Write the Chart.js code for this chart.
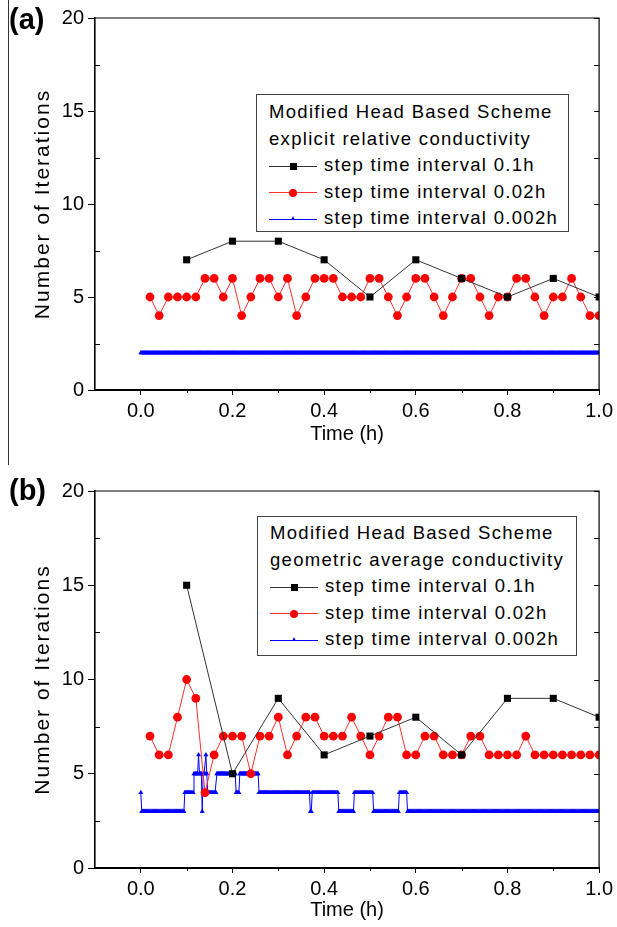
<!DOCTYPE html>
<html>
<head>
<meta charset="utf-8">
<script src="https://cdn.jsdelivr.net/npm/chart.js@4.4.0/dist/chart.umd.min.js"></script>
<style>
  html, body { margin:0; padding:0; background:#fff; }
  #page { position:relative; width:617px; height:927px; overflow:hidden; font-family:"Liberation Sans", Arial, sans-serif; color:#000; }
  canvas { position:absolute; left:0; }
  #cA { top:0; }
  #cB { top:463px; }
  .panel { position:absolute; left:9px; font-weight:bold; font-size:29px; line-height:32px; }
  .rule { position:absolute; left:8px; top:0; width:0; height:465px; border-left:1px solid #333; }
  .legend { position:absolute; box-sizing:border-box; border:1.5px solid #444; background:#fff; font-size:18.5px; letter-spacing:1.3px; white-space:nowrap; }
  .legend div { height:26.6px; line-height:26.6px; }
  .sym { display:inline-block; position:relative; width:48px; height:1px; vertical-align:middle; margin-right:7px; }
  .mk { position:absolute; left:50%; top:50%; }
</style>
</head>
<body>
<div id="page">
  <canvas id="cA" width="617" height="463"></canvas>
  <canvas id="cB" width="617" height="464"></canvas>
  <div class="rule"></div>
  <div class="panel" style="top:3px;">(a)</div>
  <div class="panel" style="top:474px;">(b)</div>
  <div class="legend" id="legA" style="left:256px; top:94px; width:313px; height:138px; padding:4px 0 0 12px;"></div>
  <div class="legend" id="legB" style="left:257px; top:516px; width:320px; height:140px; padding:3px 0 0 12px;"></div>
</div>
<script>
// step time interval 0.1h
var timeCoarse = [0.1, 0.2, 0.3, 0.4, 0.5, 0.6, 0.7, 0.8, 0.9, 1.0];
var itersCoarseA = [7, 8, 8, 7, 5, 7, 6, 5, 6, 5];
var itersCoarseB = [15, 5, 9, 6, 7, 8, 6, 9, 9, 8];

// step time interval 0.02h
var timeMedium = [0.02, 0.04, 0.06, 0.08, 0.10, 0.12, 0.14, 0.16, 0.18, 0.20,
                  0.22, 0.24, 0.26, 0.28, 0.30, 0.32, 0.34, 0.36, 0.38, 0.40,
                  0.42, 0.44, 0.46, 0.48, 0.50, 0.52, 0.54, 0.56, 0.58, 0.60,
                  0.62, 0.64, 0.66, 0.68, 0.70, 0.72, 0.74, 0.76, 0.78, 0.80,
                  0.82, 0.84, 0.86, 0.88, 0.90, 0.92, 0.94, 0.96, 0.98, 1.00];
var itersMediumA = [5, 4, 5, 5, 5, 5, 6, 6, 5, 6, 4, 5, 6, 6, 5, 6, 4, 5, 6, 6,
                    6, 5, 5, 5, 6, 6, 5, 4, 5, 6, 6, 5, 4, 5, 6, 6, 5, 4, 5, 5,
                    6, 6, 5, 4, 5, 5, 6, 5, 4, 4];
var itersMediumB = [7, 6, 6, 8, 10, 9, 4, 6, 7, 7, 7, 5, 7, 7, 8, 6, 7, 8, 8, 7,
                    7, 7, 8, 7, 6, 7, 8, 8, 6, 6, 7, 7, 6, 6, 6, 7, 7, 6, 6, 6,
                    6, 7, 6, 6, 6, 6, 6, 6, 6, 6];

// step time interval 0.002h, written as runs of [iterations, number of steps] from t = 0
var fineStep = 0.002;
var itersFineRunsA = [[2, 501]];
var itersFineRunsB = [[4, 1], [3, 47], [4, 10], [5, 5], [6, 1], [5, 3], [3, 1], [5, 3], [6, 1], [5, 1],
                      [4, 10], [5, 21], [4, 4], [5, 21], [4, 56], [3, 2], [4, 29], [3, 17], [4, 21],
                      [3, 28], [4, 9], [3, 210]];

var seriesLabels = ["step time interval 0.1h", "step time interval 0.02h", "step time interval 0.002h"];
var legendHeadA = ["Modified Head Based Scheme", "explicit relative conductivity"];
var legendHeadB = ["Modified Head Based Scheme", "geometric average conductivity"];

function pairs(xs, ys) {
  var out = [];
  for (var i = 0; i < xs.length; i++) out.push({x: xs[i], y: ys[i]});
  return out;
}

function fromRuns(runs, step) {
  var out = [], i = 0;
  runs.forEach(function(r) {
    for (var k = 0; k < r[1]; k++) { out.push({x: +(i * step).toFixed(3), y: r[0]}); i++; }
  });
  return out;
}

function makeDatasets(coarse, medium, fineRuns) {
  return [
    {
      label: seriesLabels[0], data: pairs(timeCoarse, coarse),
      borderColor: '#333', borderWidth: 1, backgroundColor: '#000',
      pointStyle: 'rect', pointRadius: 5, pointBorderWidth: 0
    },
    {
      label: seriesLabels[1], data: pairs(timeMedium, medium),
      borderColor: '#ff3030', borderWidth: 1, backgroundColor: '#ff0000',
      pointStyle: 'circle', pointRadius: 4.4, pointBorderWidth: 0
    },
    {
      label: seriesLabels[2], data: fromRuns(fineRuns, fineStep),
      borderColor: '#0000ff', borderWidth: 1, backgroundColor: '#0000ff',
      pointStyle: 'triangle', pointRadius: 2.9, pointBorderWidth: 0
    }
  ];
}

// box top/right, inward ticks, minor ticks; spaced axis title
var framePlugin = {
  id: 'frame',
  afterLayout: function(chart) {
    var ys = chart.scales.y;
    if (ys._spacedTitle) return;
    var orig = ys.drawTitle;
    ys.drawTitle = function() {
      var ctx = this.ctx;
      var prev = ctx.letterSpacing;
      ctx.letterSpacing = '2px';
      orig.apply(this, arguments);
      ctx.letterSpacing = prev || '0px';
    };
    ys._spacedTitle = true;
  },
  afterDraw: function(chart) {
    var a = chart.chartArea, ctx = chart.ctx, ys = chart.scales.y, xs = chart.scales.x;
    ctx.save();
    ctx.strokeStyle = '#000';
    ctx.lineWidth = 1.2;
    ctx.beginPath();
    ctx.moveTo(a.left, a.top); ctx.lineTo(a.right, a.top); ctx.lineTo(a.right, a.bottom);
    ctx.stroke();
    ctx.lineWidth = 1;
    ys.ticks.forEach(function(t) {
      var py = Math.round(ys.getPixelForValue(t.value)) + 0.5;
      ctx.beginPath(); ctx.moveTo(a.right, py); ctx.lineTo(a.right - 5, py); ctx.stroke();
      if (t.value % 5 !== 0) {
        ctx.beginPath(); ctx.moveTo(a.left, py); ctx.lineTo(a.left + 5, py); ctx.stroke();
      }
    });
    xs.ticks.forEach(function(t) {
      var k = Math.round(t.value * 10);
      if (k > 0 && k % 2 !== 0) {
        var px = Math.round(xs.getPixelForValue(t.value)) + 0.5;
        ctx.beginPath(); ctx.moveTo(px, a.bottom); ctx.lineTo(px, a.bottom + 3); ctx.stroke();
      }
    });
    ctx.restore();
  }
};

function isMajorX(v) {
  var k = Math.round(v * 10);
  return k >= 0 && k % 2 === 0;
}

function makeChart(id, datasets, pad, xHeight) {
  return new Chart(document.getElementById(id), {
    type: 'line',
    data: { datasets: datasets },
    options: {
      responsive: false,
      animation: false,
      devicePixelRatio: 1,
      layout: { padding: pad },
      plugins: { legend: { display: false }, tooltip: { enabled: false } },
      scales: {
        x: {
          type: 'linear', min: -0.1, max: 1.0,
          border: { color: '#000', width: 2 },
          grid: {
            drawOnChartArea: false, tickLength: 5, lineWidth: 1,
            tickColor: function(c) { return (c.tick && isMajorX(c.tick.value)) ? '#000' : 'rgba(0,0,0,0)'; }
          },
          ticks: {
            stepSize: 0.1, padding: 4, color: '#000', maxRotation: 0, autoSkip: false,
            font: { family: 'Liberation Sans', size: 20 },
            callback: function(v) { return isMajorX(v) ? (Math.round(v * 10) / 10).toFixed(1) : ''; }
          },
          title: { display: true, text: 'Time (h)', color: '#000', font: { family: 'Liberation Sans', size: 20 }, padding: { top: 2, bottom: 4 } },
          afterFit: function(s) { s.height = xHeight; }
        },
        y: {
          min: 0, max: 20,
          border: { color: '#000', width: 1.6 },
          grid: {
            drawOnChartArea: false, tickLength: 7, lineWidth: 1,
            tickColor: function(c) { return (c.tick && c.tick.value % 5 === 0) ? '#000' : 'rgba(0,0,0,0)'; }
          },
          ticks: {
            stepSize: 2.5, padding: 4, color: '#000', autoSkip: false,
            font: { family: 'Liberation Sans', size: 20 },
            callback: function(v) { return v % 5 === 0 ? v : ''; }
          },
          title: { display: true, text: 'Number of Iterations', color: '#000', font: { family: 'Liberation Sans', size: 21 }, padding: { top: 4, bottom: 4 } },
          afterFit: function(s) { s.width = 68; }
        }
      }
    },
    plugins: [framePlugin]
  });
}

function buildLegend(elId, heads, chart) {
  var el = document.getElementById(elId);
  heads.forEach(function(h) {
    var d = document.createElement('div');
    d.textContent = h;
    el.appendChild(d);
  });
  chart.data.datasets.forEach(function(ds) {
    var row = document.createElement('div');
    var sym = document.createElement('span');
    sym.className = 'sym';
    sym.style.background = ds.borderColor;
    var mk = document.createElement('span');
    mk.className = 'mk';
    if (ds.pointStyle === 'rect') {
      mk.style.cssText += 'width:7px;height:7px;margin:-3.5px 0 0 -3.5px;background:' + ds.backgroundColor;
    } else if (ds.pointStyle === 'circle') {
      mk.style.cssText += 'width:8px;height:8px;margin:-4px 0 0 -4px;border-radius:50%;background:' + ds.backgroundColor;
    } else {
      mk.style.cssText += 'width:0;height:0;margin:-3px 0 0 -2.5px;border-left:2.5px solid transparent;border-right:2.5px solid transparent;border-bottom:4px solid ' + ds.backgroundColor;
    }
    sym.appendChild(mk);
    row.appendChild(sym);
    row.appendChild(document.createTextNode(ds.label));
    el.appendChild(row);
  });
}

var chartA = makeChart('cA', makeDatasets(itersCoarseA, itersMediumA, itersFineRunsA), { left: 27, right: 17, top: 18, bottom: 13 }, 60);
var chartB = makeChart('cB', makeDatasets(itersCoarseB, itersMediumB, itersFineRunsB), { left: 27, right: 17, top: 28, bottom: 1 }, 58);
buildLegend('legA', legendHeadA, chartA);
buildLegend('legB', legendHeadB, chartB);
</script>
</body>
</html>
